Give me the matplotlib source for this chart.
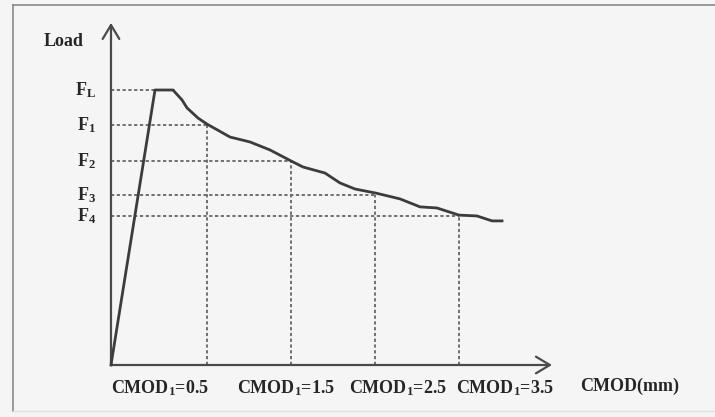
import matplotlib
matplotlib.use("Agg")
import matplotlib.pyplot as plt

plt.rcParams['font.family'] = ['Liberation Serif', 'DejaVu Serif']
plt.rcParams['mathtext.fontset'] = 'custom'
plt.rcParams['mathtext.rm'] = 'Liberation Serif:bold'
plt.rcParams['mathtext.it'] = 'Liberation Serif:bold'
plt.rcParams['mathtext.bf'] = 'Liberation Serif:bold'

# schematic load-CMOD curve (load normalised to the peak F_L)
cmod = [-0.643, -0.119, 0.095, 0.202, 0.262, 0.393, 0.5, 0.774, 1.012, 1.25,
        1.5, 1.643, 1.905, 2.083, 2.262, 2.512, 2.798, 3.036, 3.238, 3.5,
        3.714, 3.893, 4.012]
load = [0.0, 1.0, 1.0, 0.964, 0.935, 0.898, 0.876, 0.829, 0.811, 0.782,
        0.742, 0.72, 0.698, 0.662, 0.64, 0.625, 0.604, 0.575, 0.571, 0.545,
        0.542, 0.524, 0.524]

# characteristic CMOD values and the loads read at them
cmod_marks = [0.5, 1.5, 2.5, 3.5]
f_levels = [0.873, 0.742, 0.618, 0.542]
f_peak = 1.0
f_labels = [r'F$_\mathrm{1}$', r'F$_\mathrm{2}$', r'F$_\mathrm{3}$', r'F$_\mathrm{4}$']
cmod_labels = [r'CMOD$_\mathrm{1}$=0.5', r'CMOD$_\mathrm{1}$=1.5',
               r'CMOD$_\mathrm{1}$=2.5', r'CMOD$_\mathrm{1}$=3.5']

W, H = 715, 417
fig = plt.figure(figsize=(W / 100, H / 100), dpi=100, facecolor='#f5f5f5')
ax = fig.add_axes([0, 0, 1, 1])
ax.set_axis_off()

# pixel frame -> data: x = (px - 165) / 84, y = (365 - py) / 275
ax.set_xlim(-165 / 84, (W - 165) / 84)
ax.set_ylim((365 - H) / 275, 365 / 275)

x0 = -0.643          # where the load axis sits
x_end = 4.607        # tip of the CMOD axis
y_top = 1.244        # tip of the load axis

axis_col = '#4a4a4a'
dot_col = '#666666'
txt_col = '#262626'

# frame around the figure
fig.add_artist(plt.Line2D([13 / W, 13 / W], [0.015, 1 - 5 / H], color='#8a8a8a', lw=1.2))
fig.add_artist(plt.Line2D([13 / W, 1.0], [1 - 5 / H, 1 - 5 / H], color='#8a8a8a', lw=1.2))
fig.add_artist(plt.Line2D([13 / W, 1.0], [6 / H, 6 / H], color='#e0e0e0', lw=1.0))

# axes with open arrowheads
arrow = dict(arrowstyle='->,head_length=1.0,head_width=0.6', color=axis_col,
             lw=1.6, shrinkA=0, shrinkB=0)
ax.annotate('', xy=(x0, y_top), xytext=(x0, 0), arrowprops=arrow)
ax.annotate('', xy=(x_end, 0), xytext=(x0, 0), arrowprops=arrow)

# dotted guide lines
dash = dict(color=dot_col, lw=1.3, linestyle=(0, (1.8, 1.4)), zorder=1)
ax.plot([x0, 0.119], [f_peak, f_peak], **dash)
for xm, fl in zip(cmod_marks, f_levels):
    ax.plot([x0, xm], [fl, fl], **dash)
    ax.plot([xm, xm], [0, fl], **dash)

# the curve
ax.plot(cmod, load, color='#3c3c3c', lw=2.0, solid_joinstyle='round', zorder=3)

# load-axis labels
fs = 13
ax.text(x0 - 0.18, f_peak, r'F$_\mathrm{L}$', ha='right', va='center',
        fontsize=fs, fontweight='bold', color=txt_col)
for lab, fl in zip(f_labels, f_levels):
    ax.text(x0 - 0.18, fl, lab, ha='right', va='center',
            fontsize=fs, fontweight='bold', color=txt_col)
ax.text(x0 - 0.33, 1.175, 'Load', ha='right', va='center',
        fontsize=fs, fontweight='bold', color=txt_col)

# CMOD labels under the axis
label_px = [160, 286, 398, 505]
for lab, px in zip(cmod_labels, label_px):
    fig.text(px / W, 1 - 388 / H, lab, ha='center', va='center',
             fontsize=fs, fontweight='bold', color=txt_col)
fig.text(630 / W, 1 - 386 / H, 'CMOD(mm)', ha='center', va='center',
         fontsize=fs, fontweight='bold', color=txt_col)

fig.savefig('out.png', dpi=100, facecolor=fig.get_facecolor())
